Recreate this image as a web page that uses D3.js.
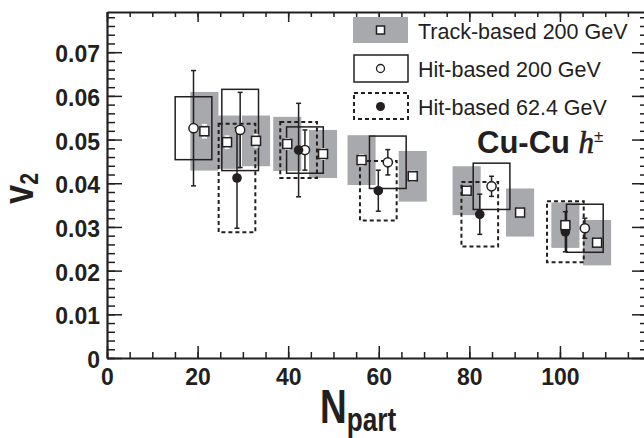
<html>
<head>
<meta charset="utf-8">

<!-- Load d3.js -->
<script src="https://d3js.org/d3.v7.min.js"></script>

<style>
  body { margin: 0; background: #fff; }
  text { font-family: "Liberation Sans", Arial, Helvetica, sans-serif; fill: #231f20; }
</style>

</head>

<body>

  <!-- View container -->
  <div id="d3_visualisation"></div>

</body>

<script>

// Track-based 200 GeV (open squares, grey systematic boxes)
var trackNpart = [21.5, 26.5, 32.9, 39.8, 47.7, 56.2, 67.5, 79.4, 91.2, 101.2, 108.2];
var trackV2    = [0.0519, 0.0494, 0.0497, 0.0490, 0.0467, 0.0453, 0.0416, 0.0383, 0.0333, 0.0304, 0.0264];
var trackStat  = [0.0015, 0.0014, 0.0014, 0.0012, 0.0012, 0.0012, 0.0011, 0.0011, 0.0010, 0.0010, 0.0010];
var trackSyst  = [0.0090, 0.0061, 0.0058, 0.0062, 0.0055, 0.0057, 0.0058, 0.0056, 0.0055, 0.0052, 0.0052];

// Hit-based 200 GeV (open circles, solid boxes)
var hitNpart = [19.1, 29.4, 43.7, 62.0, 84.9, 105.5];
var hitV2    = [0.0526, 0.0522, 0.0476, 0.0448, 0.0393, 0.0297];
var hitStat  = [0.0132, 0.0086, 0.0046, 0.0029, 0.0023, 0.0023];
var hitSyst  = [0.0072, 0.0093, 0.0053, 0.0060, 0.0053, 0.0055];

// Hit-based 62.4 GeV (filled circles, dashed boxes)
var hit62Npart = [28.7, 42.3, 59.9, 82.3, 101.2];
var hit62V2    = [0.0412, 0.0476, 0.0383, 0.0329, 0.0289];
var hit62Stat  = [0.0115, 0.0107, 0.0047, 0.0046, 0.0046];
var hit62Syst  = [0.0124, 0.0064, 0.0068, 0.0074, 0.0070];

var xMajorTicks = [0, 20, 40, 60, 80, 100];
var yMajorTicks = [0, 0.01, 0.02, 0.03, 0.04, 0.05, 0.06, 0.07];

var legendLabels = ["Track-based 200 GeV", "Hit-based 200 GeV", "Hit-based 62.4 GeV"];

var margin = {top: 12, right: -2, bottom: 80, left: 107};
var width = 644 - margin.left - margin.right;
var height = 438 - margin.top - margin.bottom;

var ink = "#231f20";
var grey = "#a7a9ac";
var trackHalf = 3.1;   // box half widths in Npart units
var hitHalf = 4.05;

var svg = d3.select("#d3_visualisation")
  .append("svg")
    .attr("width", 644)
    .attr("height", 438)
    .style("display", "block")
  .append("g")
    .attr("transform", "translate(" + margin.left + "," + margin.top + ")");

var x = d3.scaleLinear().domain([0, 119]).range([0, width]);
var y = d3.scaleLinear().domain([0, 0.0792]).range([height, 0]);

function zip(n, v, s, sys) {
  return n.map(function(d, i) { return {n: d, v: v[i], s: s[i], sys: sys[i]}; });
}
var track = zip(trackNpart, trackV2, trackStat, trackSyst);
var hit = zip(hitNpart, hitV2, hitStat, hitSyst);
var hit62 = zip(hit62Npart, hit62V2, hit62Stat, hit62Syst);

// Axes (ticks pointing inward)
function styleAxis(g, w) {
  g.selectAll("path").attr("stroke", ink).attr("stroke-width", w);
  g.selectAll("line").attr("stroke", ink).attr("stroke-width", 1.5);
}
var xMinor = d3.range(0, 120, 5);
var yMinor = d3.range(0, 0.0792, 0.002);

svg.append("g").attr("transform", "translate(0," + height + ")")
  .call(d3.axisBottom(x).tickValues(xMinor).tickSize(-6).tickFormat(""))
  .call(styleAxis, 0);
svg.append("g").attr("transform", "translate(0," + height + ")")
  .call(d3.axisBottom(x).tickValues(xMajorTicks).tickSizeInner(-12).tickSizeOuter(0)
        .tickPadding(11).tickFormat(d3.format("d")))
  .call(styleAxis, 2.2)
  .selectAll("text").style("font-size", "23px").style("font-weight", "bold").attr("fill", ink);

svg.append("g")
  .call(d3.axisTop(x).tickValues(xMinor).tickSize(-5).tickFormat(""))
  .call(styleAxis, 0);
svg.append("g")
  .call(d3.axisTop(x).tickValues(xMajorTicks).tickSizeInner(-10).tickSizeOuter(0).tickFormat(""))
  .call(styleAxis, 2.2);

svg.append("g")
  .call(d3.axisLeft(y).tickValues(yMinor).tickSize(-8).tickFormat(""))
  .call(styleAxis, 0);
svg.append("g")
  .call(d3.axisLeft(y).tickValues(yMajorTicks).tickSizeInner(-15).tickSizeOuter(0)
        .tickPadding(7).tickFormat(function(d) { return d === 0 ? "0" : d3.format(".2f")(d); }))
  .call(styleAxis, 2.2)
  .selectAll("text").style("font-size", "23px").style("font-weight", "bold")
    .attr("fill", ink).attr("dy", "0.42em");

svg.append("g").attr("transform", "translate(" + width + ",0)")
  .call(d3.axisRight(y).tickValues(yMinor).tickSize(-6).tickFormat(""))
  .call(styleAxis, 0);
svg.append("g").attr("transform", "translate(" + width + ",0)")
  .call(d3.axisRight(y).tickValues(yMajorTicks).tickSizeInner(-14).tickSizeOuter(0).tickFormat(""))
  .call(styleAxis, 2.2);

// Systematic boxes
svg.selectAll("rect.track").data(track).enter().append("rect")
  .attr("x", function(d) { return x(d.n - trackHalf); })
  .attr("width", function(d) { return x(d.n + trackHalf) - x(d.n - trackHalf); })
  .attr("y", function(d) { return y(d.v + d.sys); })
  .attr("height", function(d) { return y(d.v - d.sys) - y(d.v + d.sys); })
  .attr("fill", grey);

svg.selectAll("rect.hit").data(hit).enter().append("rect")
  .attr("x", function(d) { return x(d.n - hitHalf); })
  .attr("width", function(d) { return x(d.n + hitHalf) - x(d.n - hitHalf); })
  .attr("y", function(d) { return y(d.v + d.sys); })
  .attr("height", function(d) { return y(d.v - d.sys) - y(d.v + d.sys); })
  .attr("fill", "none").attr("stroke", ink).attr("stroke-width", 1.5);

svg.selectAll("rect.hit62").data(hit62).enter().append("rect")
  .attr("x", function(d) { return x(d.n - hitHalf); })
  .attr("width", function(d) { return x(d.n + hitHalf) - x(d.n - hitHalf); })
  .attr("y", function(d) { return y(d.v + d.sys); })
  .attr("height", function(d) { return y(d.v - d.sys) - y(d.v + d.sys); })
  .attr("fill", "none").attr("stroke", ink).attr("stroke-width", 2)
  .attr("stroke-dasharray", "4,3");

// Statistical error bars
function errorBars(data, color) {
  var g = svg.append("g").attr("stroke", color).attr("stroke-width", 1.5);
  g.selectAll("line.v").data(data).enter().append("line")
    .attr("x1", function(d) { return x(d.n); }).attr("x2", function(d) { return x(d.n); })
    .attr("y1", function(d) { return y(d.v + d.s); }).attr("y2", function(d) { return y(d.v - d.s); });
  [1, -1].forEach(function(sgn) {
    g.selectAll("line.c" + sgn).data(data).enter().append("line")
      .attr("x1", function(d) { return x(d.n) - 2.5; }).attr("x2", function(d) { return x(d.n) + 2.5; })
      .attr("y1", function(d) { return y(d.v + sgn * d.s); }).attr("y2", function(d) { return y(d.v + sgn * d.s); });
  });
}
errorBars(track, "#fff");
errorBars(hit, ink);
errorBars(hit62, ink);

// Markers
svg.selectAll("circle.hit").data(hit).enter().append("circle")
  .attr("cx", function(d) { return x(d.n); })
  .attr("cy", function(d) { return y(d.v); })
  .attr("r", 4.6).attr("fill", "#fff").attr("stroke", ink).attr("stroke-width", 1.5);

svg.selectAll("circle.hit62").data(hit62).enter().append("circle")
  .attr("cx", function(d) { return x(d.n); })
  .attr("cy", function(d) { return y(d.v); })
  .attr("r", 4.8).attr("fill", ink);

svg.selectAll("rect.sq").data(track).enter().append("rect")
  .attr("x", function(d) { return x(d.n) - 4.5; })
  .attr("y", function(d) { return y(d.v) - 4.5; })
  .attr("width", 9).attr("height", 9)
  .attr("fill", "#fff").attr("stroke", ink).attr("stroke-width", 1.5);

// Legend
var lg = d3.select("svg").append("g");
lg.append("rect").attr("x", 353).attr("y", 17).attr("width", 55).attr("height", 26).attr("fill", grey);
lg.append("rect").attr("x", 376.5).attr("y", 26).attr("width", 8).attr("height", 8)
  .attr("fill", "#fff").attr("stroke", ink).attr("stroke-width", 1.5);
lg.append("rect").attr("x", 354).attr("y", 55).attr("width", 54).attr("height", 27)
  .attr("fill", "none").attr("stroke", ink).attr("stroke-width", 1.5);
lg.append("circle").attr("cx", 380.5).attr("cy", 68.5).attr("r", 4)
  .attr("fill", "#fff").attr("stroke", ink).attr("stroke-width", 1.3);
lg.append("rect").attr("x", 354).attr("y", 93).attr("width", 54).attr("height", 26)
  .attr("fill", "none").attr("stroke", ink).attr("stroke-width", 2).attr("stroke-dasharray", "4,3");
lg.append("circle").attr("cx", 380.5).attr("cy", 106.5).attr("r", 4.5).attr("fill", ink);
lg.selectAll("text").data(legendLabels).enter().append("text")
  .attr("x", 418).attr("y", function(d, i) { return 38.5 + i * 38.3; })
  .style("font-size", "21.5px").text(function(d) { return d; });

// Cu-Cu h± label
var lab = d3.select("svg").append("text").attr("x", 477).attr("y", 153);
lab.append("tspan").style("font-size", "31px").style("font-weight", "bold").text("Cu-Cu ");
lab.append("tspan").style("font-family", "'Liberation Serif', 'Times New Roman', serif")
  .style("font-style", "italic").style("font-size", "31px").style("stroke", ink)
  .style("stroke-width", 0.6).text("h");
lab.append("tspan").attr("dy", -11).style("font-size", "17px").text("\u00b1");

// Axis titles
var xt = d3.select("svg").append("text").attr("transform", "translate(320,423) scale(0.77,1)")
  .style("font-weight", "bold");
xt.append("tspan").style("font-size", "48px").text("N");
xt.append("tspan").attr("dy", 8).style("font-size", "34px").text("part");

var yt = d3.select("svg").append("text").attr("transform", "translate(33,204) rotate(-90) scale(0.82,1)")
  .style("font-weight", "bold");
yt.append("tspan").style("font-size", "42px").text("v");
yt.append("tspan").attr("dy", 5).style("font-size", "26px").text("2");

</script>

</html>
